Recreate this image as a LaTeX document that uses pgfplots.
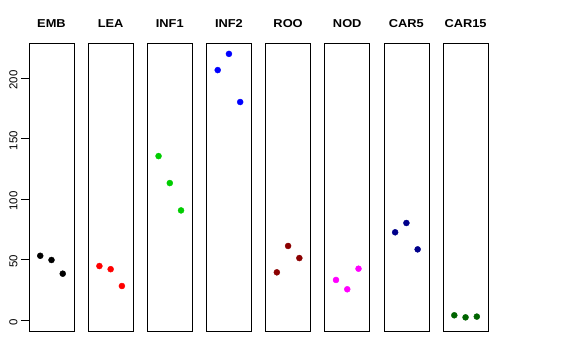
\documentclass[border=0pt]{standalone}
\usepackage{fontspec}
\setmainfont{Liberation Sans}
\usepackage{pgfplots}
\pgfplotsset{compat=1.18}
\definecolor{cgreen}{RGB}{0,205,0}
\definecolor{cdarkred}{RGB}{139,0,0}
\definecolor{cdarkblue}{RGB}{0,0,139}
\definecolor{cdarkgreen}{RGB}{0,100,0}
\definecolor{cmagenta}{RGB}{255,0,255}
\definecolor{cblue}{RGB}{0,0,255}
\definecolor{cred}{RGB}{255,0,0}
\pgfplotsset{
  panel/.style={
    scale only axis, width=45bp, height=288bp,
    xmin=0, xmax=4, ymin=-9.1, ymax=229,
    xtick=\empty, ytick=\empty,
    axis line style={black, line width=0.6bp},
    title style={at={(0.5,1)}, anchor=base, yshift=9.3bp,
      font=\fontsize{11.5}{12}\selectfont\bfseries, xscale=1.12},
    clip=false,
  },
  pts/.style={only marks, mark=*, mark size=3bp, mark options={draw=#1, fill=#1}},
}
\begin{document}
\begin{tikzpicture}
\useasboundingbox (-29bp,-29bp) rectangle (547bp,331bp);
\begin{axis}[panel, at={(0bp,0bp)}, title={EMB},
  ytick={0,50,100,150,200}, tick pos=left, tick align=outside,
  major tick length=8bp, tick style={black, line width=0.6bp},
  /pgf/number format/assume math mode=true,
  yticklabel style={rotate=90, anchor=south, font=\fontsize{11.5}{12}\selectfont, xshift=-2bp}]
\addplot[pts=black] coordinates {(1,53.1) (2,49.6) (3,38.3)};
\end{axis}
\begin{axis}[panel, at={(59.15bp,0bp)}, title={LEA}]
\addplot[pts=cred] coordinates {(1,44.6) (2,42.0) (3,28.1)};
\end{axis}
\begin{axis}[panel, at={(118.3bp,0bp)}, title={INF1}]
\addplot[pts=cgreen] coordinates {(1,135.5) (2,113.2) (3,90.6)};
\end{axis}
\begin{axis}[panel, at={(177.45bp,0bp)}, title={INF2}]
\addplot[pts=cblue] coordinates {(1,206.6) (2,220.0) (3,180.2)};
\end{axis}
\begin{axis}[panel, at={(236.6bp,0bp)}, title={ROO}]
\addplot[pts=cdarkred] coordinates {(1,39.4) (2,61.2) (3,51.2)};
\end{axis}
\begin{axis}[panel, at={(295.75bp,0bp)}, title={NOD}]
\addplot[pts=cmagenta] coordinates {(1,33.1) (2,25.4) (3,42.4)};
\end{axis}
\begin{axis}[panel, at={(354.9bp,0bp)}, title={CAR5}]
\addplot[pts=cdarkblue] coordinates {(1,72.5) (2,80.2) (3,58.4)};
\end{axis}
\begin{axis}[panel, at={(414.05bp,0bp)}, title={CAR15}]
\addplot[pts=cdarkgreen] coordinates {(1,3.9) (2,2.2) (3,2.8)};
\end{axis}
\end{tikzpicture}
\end{document}
